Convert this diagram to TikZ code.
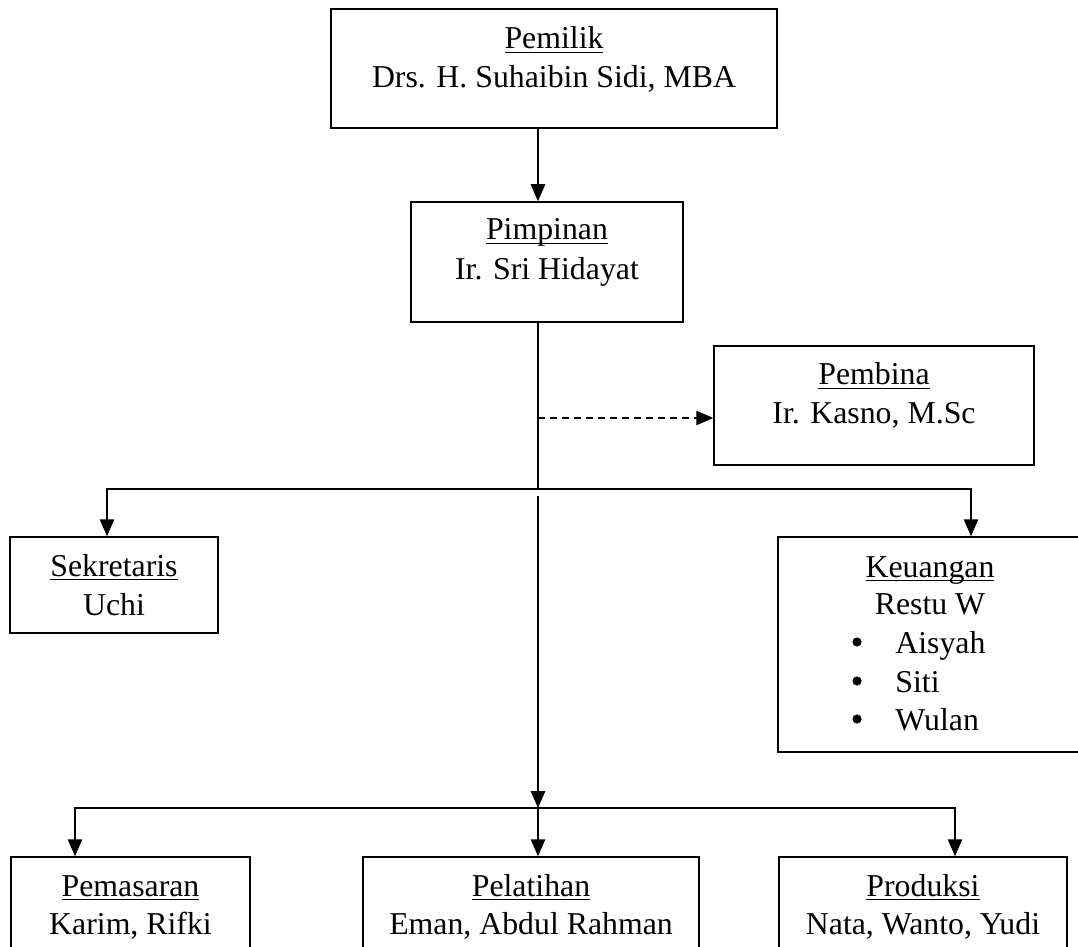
\documentclass[tikz,border=0pt]{standalone}
\usepackage{fontspec}
\setmainfont{Liberation Serif}
\usetikzlibrary{arrows.meta}
\newcommand\myul[1]{\leavevmode\setbox0\hbox{#1}\rlap{\rule[-2pt]{\wd0}{0.7pt}}\box0}
\begin{document}
\begin{tikzpicture}[x=0.5pt,y=-0.5pt,
  box/.style={draw, line width=0.75pt, inner sep=0pt, rectangle},
  txt/.style={inner sep=0pt, anchor=base, font=\fontsize{15.9}{19}\selectfont},
  dot/.style={circle, fill, inner sep=0pt, minimum size=4.6pt},
  conn/.style={line width=0.75pt},
  arr/.style={conn, -{Triangle[length=8.5pt,width=7.2pt]}},
]
\clip (0,0) rectangle (1078,947);
\fill[white] (0,0) rectangle (1078,947);

% boxes
\node[box, minimum width=223pt, minimum height=59.5pt] (pemilik) at (554,68.5) {};
\node[box, minimum width=136pt, minimum height=60pt] (pimpinan) at (547,262) {};
\node[box, minimum width=160pt, minimum height=59.5pt] (pembina) at (874,405.5) {};
\node[box, minimum width=104pt, minimum height=48pt] (sekretaris) at (114,585) {};
\node[box, minimum width=152pt, minimum height=107.5pt] (keuangan) at (930,644.5) {};
\node[box, minimum width=119.5pt, minimum height=71.5pt] (pemasaran) at (130.5,928.5) {};
\node[box, minimum width=168pt, minimum height=71.5pt] (pelatihan) at (531,928.5) {};
\node[box, minimum width=144pt, minimum height=71.5pt] (produksi) at (923,928.5) {};

% texts
\node[txt] (t1a) at (554,49) {\myul{Pemilik}};
\node[txt] (t1b) at (554,88) {Drs. H. Suhaibin Sidi, MBA};
\node[txt] (t2a) at (547,240) {\myul{Pimpinan}};
\node[txt] (t2b) at (547,279) {Ir. Sri Hidayat};
\node[txt] (t3a) at (874,385) {\myul{Pembina}};
\node[txt] (t3b) at (874,423) {Ir. Kasno, M.Sc};
\node[txt] (t4a) at (114,576) {\myul{Sekretaris}};
\node[txt] (t4b) at (114,615) {Uchi};
\node[txt] (t5a) at (930,577) {\myul{Keuangan}};
\node[txt] (t5b) at (930,614) {Restu W};
\node[dot] (b1) at (857,642) {};
\node[dot] (b2) at (857,681) {};
\node[dot] (b3) at (857,719) {};
\node[txt, anchor=base west] (i1) at (895,653) {Aisyah};
\node[txt, anchor=base west] (i2) at (895,692) {Siti};
\node[txt, anchor=base west] (i3) at (895,730) {Wulan};
\node[txt] (t6a) at (130.5,896) {\myul{Pemasaran}};
\node[txt] (t6b) at (130.5,934) {Karim, Rifki};
\node[txt] (t7a) at (531,896) {\myul{Pelatihan}};
\node[txt] (t7b) at (531,934) {Eman, Abdul Rahman};
\node[txt] (t8a) at (923,896) {\myul{Produksi}};
\node[txt] (t8b) at (923,934) {Nata, Wanto, Yudi};

% connectors
\coordinate (spine) at (538,0);
\draw[arr] (pemilik.south -| spine) -- (pimpinan.north -| spine);
\coordinate (j1) at (538,489);
\draw[conn] (pimpinan.south -| spine) -- (j1);
\coordinate (d0) at (538,418);
\draw[arr, dash pattern=on 3.5pt off 2.5pt] (d0) -- (pembina.west |- d0);
\coordinate (hl) at (107,489);
\coordinate (hr) at (971,489);
\draw[arr] (j1) -- (hl) -- (sekretaris.north -| hl);
\draw[arr] (j1) -- (hr) -- (keuangan.north -| hr);
\coordinate (s2) at (538,496);
\coordinate (j2) at (538,808);
\draw[arr] (s2) -- (j2);
\coordinate (bl) at (75,808);
\coordinate (br) at (955,808);
\draw[arr] (j2) -- (bl) -- (pemasaran.north -| bl);
\draw[arr] (j2) -- (br) -- (produksi.north -| br);
\draw[arr] (j2) -- (pelatihan.north -| j2);
\end{tikzpicture}
\end{document}
